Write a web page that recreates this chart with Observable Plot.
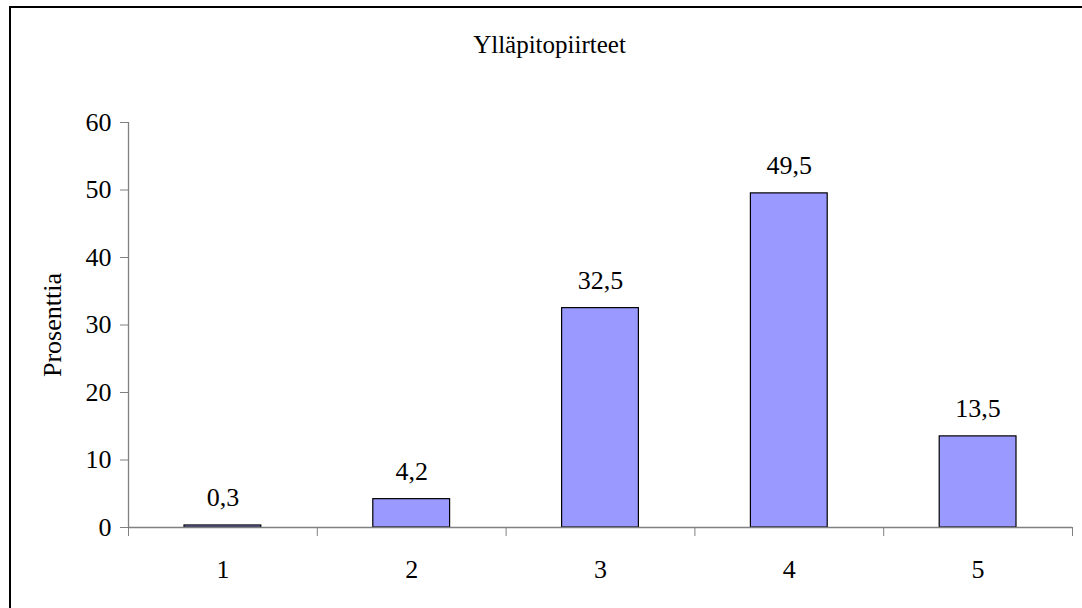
<!DOCTYPE html>
<html><head><meta charset="utf-8">
<script src="https://cdn.jsdelivr.net/npm/d3@7"></script>
<script src="https://cdn.jsdelivr.net/npm/@observablehq/plot@0.6"></script>
<style>
body{margin:0;background:#fff;}
#wrap{position:relative;width:1082px;height:608px;overflow:hidden;background:#fff;font-family:"Liberation Serif","Times New Roman",serif;}
#frame{position:absolute;left:9px;top:6px;width:1100px;height:700px;border-top:2px solid #000;border-left:2px solid #000;box-sizing:border-box;}
#title{position:absolute;left:9px;width:1081px;top:32px;line-height:25px;font-size:25px;text-align:center;color:#000;}
#chart{position:absolute;left:0;top:0;}
</style></head><body>
<div id="wrap"><div id="frame"></div><div id="chart"></div><div id="title"></div></div>
<script>
const title = "Ylläpitopiirteet";
const yLabel = "Prosenttia";
const categories = [1, 2, 3, 4, 5];
const values = [0.3, 4.2, 32.5, 49.5, 13.5];
const yTicks = [0, 10, 20, 30, 40, 50, 60];

const data = categories.map((c, i) => ({cat: c, value: values[i]}));
const boundaries = [categories[0] - 0.5, ...categories.map(c => c + 0.5)];
const fi = d3.formatLocale({decimal: ",", thousands: "\u00a0", grouping: [3], currency: ["", "\u00a0€"]});
const fmt = fi.format(".1f");

document.getElementById("title").textContent = title;

const serif = '"Liberation Serif", "Times New Roman", serif';
const chart = Plot.plot({
  width: 1082,
  height: 608,
  marginLeft: 128,
  marginRight: 10,
  marginTop: 122,
  marginBottom: 81,
  style: {fontFamily: serif, fontSize: "26px", background: "transparent", color: "#000"},
  x: {type: "linear", domain: [boundaries[0], boundaries[boundaries.length - 1]]},
  y: {domain: [yTicks[0], yTicks[yTicks.length - 1]]},
  marks: [
    Plot.rectY(data, {x1: d => d.cat - 0.5, x2: d => d.cat + 0.5, y: "value", insetLeft: 56, insetRight: 56, fill: "#9999FF", stroke: "#000", strokeWidth: 1.2}),
    Plot.ruleY([yTicks[0]], {stroke: "#808080", strokeWidth: 1.3}),
    Plot.ruleX([boundaries[0]], {y1: yTicks[0], y2: yTicks[yTicks.length - 1], stroke: "#808080", strokeWidth: 1.3}),
    Plot.axisY({ticks: yTicks, tickSize: 8, tickPadding: 9, stroke: "#808080", fill: "#000", fontFamily: serif, fontSize: 26, label: yLabel, labelAnchor: "center", labelArrow: "none", labelOffset: 86}),
    Plot.axisX({ticks: boundaries, tickSize: 9, stroke: "#808080", tickFormat: () => "", label: null}),
    Plot.axisX({ticks: categories, tickSize: 0, tickPadding: 32, fill: "#000", fontFamily: serif, fontSize: 26, tickFormat: d => String(d), label: null}),
    Plot.text(data, {x: "cat", y: "value", text: d => fmt(d.value), lineAnchor: "bottom", dy: -19, fill: "#000", fontFamily: serif, fontSize: 26})
  ]
});
document.getElementById("chart").appendChild(chart);
</script>
</body></html>
